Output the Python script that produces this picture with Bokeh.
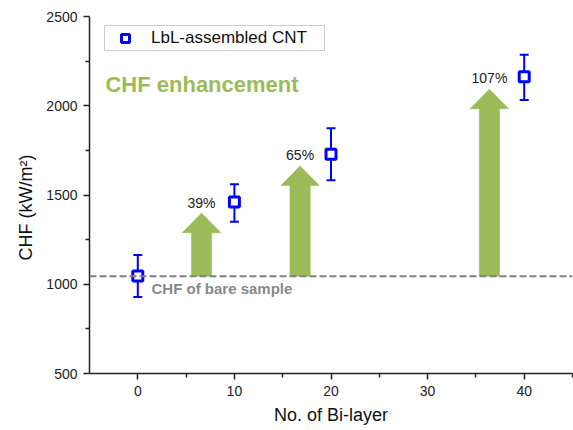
from bokeh.plotting import figure
from bokeh.models import (ColumnDataSource, Whisker, TeeHead, Span, Label, Legend,
                          LegendItem, FixedTicker, Range1d, Title)
from bokeh.embed import file_html
from bokeh.resources import INLINE

# ---- data ----
bilayers = [0, 10, 20, 40]
chf = [1046, 1461, 1728, 2163]
chf_upper = [1164, 1560, 1874, 2286]
chf_lower = [929, 1350, 1582, 2032]
bare_chf = 1045

arrow_x = [6.6, 16.8, 36.4]
arrow_tip = [1399, 1663, 2093]
pct_labels = ["39%", "65%", "107%"]
pct_y = [1455, 1725, 2158]

x_ticks = [0, 10, 20, 30, 40]
x_minor = [5, 15, 25, 35, 45]
y_ticks = [500, 1000, 1500, 2000, 2500]
y_minor = [750, 1250, 1750, 2250]

FONT = "Liberation Sans"
GREEN = "#9BBB59"
BLUE = "#0000FF"

p = figure(width=573, height=428, output_backend="svg", toolbar_location=None,
           x_range=Range1d(-5, 45), y_range=Range1d(500, 2500),
           min_border_left=89, min_border_right=1, min_border_top=16, min_border_bottom=55)
p.outline_line_color = None
p.xgrid.visible = False
p.ygrid.visible = False
p.background_fill_color = "white"

# arrows (polygons built from arrow data)
SHAFT_W = 2.1
HEAD_W = 4.0
HEAD_L = 110
xs, ys = [], []
for ax, tip in zip(arrow_x, arrow_tip):
    hb = tip - HEAD_L
    xs.append([ax - SHAFT_W / 2, ax - SHAFT_W / 2, ax - HEAD_W / 2, ax,
               ax + HEAD_W / 2, ax + SHAFT_W / 2, ax + SHAFT_W / 2])
    ys.append([bare_chf, hb, hb, tip, hb, hb, bare_chf])
p.patches(xs, ys, fill_color=GREEN, line_color=GREEN, line_width=0.5)

# baseline
p.add_layout(Span(location=bare_chf, dimension="width", line_color="#808080",
                  line_dash="7 3", line_width=2))

# error bars
src = ColumnDataSource(dict(x=bilayers, y=chf, upper=chf_upper, lower=chf_lower))
w = Whisker(base="x", upper="upper", lower="lower", source=src,
            line_color=BLUE, line_width=2, level="underlay",
            upper_head=TeeHead(size=9, line_color=BLUE, line_width=2),
            lower_head=TeeHead(size=9, line_color=BLUE, line_width=2))
p.add_layout(w)
r = p.scatter("x", "y", source=src, marker="square", size=10, line_width=3,
              line_color=BLUE, fill_color="white")

# percentage labels
for ax, ty, t in zip(arrow_x, pct_y, pct_labels):
    p.add_layout(Label(x=ax, y=ty, text=t, text_align="center", text_baseline="middle",
                       text_font=FONT, text_font_size="14px", text_color="#222222"))

p.add_layout(Label(x=-3.35, y=2120, text="CHF enhancement", text_baseline="middle",
                   text_font=FONT, text_font_size="22px", text_font_style="bold",
                   text_color=GREEN))
p.add_layout(Label(x=1.42, y=975, text="CHF of bare sample", text_baseline="middle",
                   text_font=FONT, text_font_size="15px", text_font_style="bold",
                   text_color="#888888"))

# y-axis title as a side title so it can be shifted along the axis
p.add_layout(Title(text="CHF (kW/m²)", align="left", offset=113,
                   text_font=FONT, text_font_size="18px", text_font_style="normal",
                   text_color="#111111", standoff=16), "left")

# legend
legend = Legend(items=[LegendItem(label="LbL-assembled CNT", renderers=[r])],
                location=(15, 322), padding=2, margin=0, spacing=0,
                glyph_width=36, glyph_height=20, label_height=20, label_width=171,
                label_standoff=8, label_text_font=FONT, label_text_font_size="17px",
                label_text_color="#111111", border_line_color="#999999",
                border_line_width=1, background_fill_alpha=1)
p.add_layout(legend)

# axes
for ax_ in (p.xaxis[0], p.yaxis[0]):
    ax_.axis_line_color = "#222222"
    ax_.axis_line_width = 1.5
    ax_.major_tick_line_color = "#222222"
    ax_.minor_tick_line_color = "#222222"
    ax_.major_tick_line_width = 1.5
    ax_.minor_tick_line_width = 1.5
    ax_.major_tick_in = 0
    ax_.major_tick_out = 6
    ax_.minor_tick_in = 0
    ax_.minor_tick_out = 4
    ax_.major_label_standoff = 6
    ax_.major_label_text_font = FONT
    ax_.major_label_text_font_size = "14px"
    ax_.major_label_text_color = "#222222"
    ax_.axis_label_text_font = FONT
    ax_.axis_label_text_font_size = "18px"
    ax_.axis_label_text_font_style = "normal"
    ax_.axis_label_text_color = "#111111"

p.xaxis.ticker = FixedTicker(ticks=x_ticks, minor_ticks=x_minor)
p.yaxis.ticker = FixedTicker(ticks=y_ticks, minor_ticks=y_minor)
p.xaxis.axis_label = "No. of Bi-layer"
p.xaxis.axis_label_standoff = 6

open("out.html", "w").write(file_html(p, INLINE))
